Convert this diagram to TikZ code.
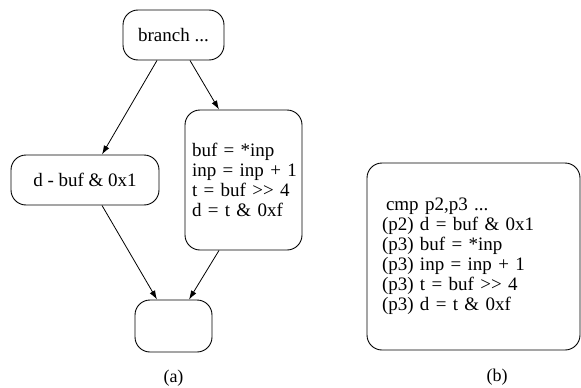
\documentclass[tikz,border=0pt]{standalone}
\usepackage{fontspec}
\setmainfont{Liberation Serif}
\usetikzlibrary{arrows.meta}
\tikzset{
    blk/.style={draw, line width=0.9pt, rounded corners=15pt, font=\fontsize{19pt}{20pt}\selectfont},
    flow/.style={-{Latex[length=9pt,width=6pt]}, line width=0.8pt}
}
\begin{document}
\begin{tikzpicture}[x=1pt, y=-1pt]
                \useasboundingbox (0,0) rectangle (581,388);
                \node[blk, minimum width=101pt, minimum height=50pt] (branch) at (173.5,35) {branch ...};
                \node[blk, minimum width=148pt, minimum height=50pt] (dmask) at (85,180) {d - buf \& 0x1};
                \node[blk, minimum height=140pt, inner xsep=7pt, text width=103pt, align=left] (shift) at (243.5,180) {buf = *inp\\\mbox{inp = inp + 1}\\t = buf >{}> 4\\d = t \& 0xf};
                \node[blk, minimum width=77pt, minimum height=52pt] (join) at (173.5,326) {};
                \node[blk, minimum height=187pt, inner xsep=15pt, text width=183pt, align=left] (pred) at (473.5,256.5) {\hspace{4pt}cmp p2,p3 ...\\(p2) d = buf \& 0x1\\(p3) buf = *inp\\(p3) inp = inp + 1\\(p3) t = buf >{}> 4\\(p3) d = t \& 0xf};
                \node[font=\fontsize{18pt}{20pt}\selectfont] (capa) at (173.5,378) {(a)};
                \node[font=\fontsize{18pt}{20pt}\selectfont] (capb) at (497,377) {(b)};
                \draw[flow] ([xshift=-16.5pt]branch.south) -- ([xshift=17pt]dmask.north);
                \draw[flow] ([xshift=16.5pt]branch.south) -- ([xshift=-24.5pt]shift.north);
                \draw[flow] ([xshift=17pt]dmask.south) -- ([xshift=-16.5pt]join.north);
                \draw[flow] ([xshift=-24.5pt]shift.south) -- ([xshift=15.5pt]join.north);
            \end{tikzpicture}
\end{document}
